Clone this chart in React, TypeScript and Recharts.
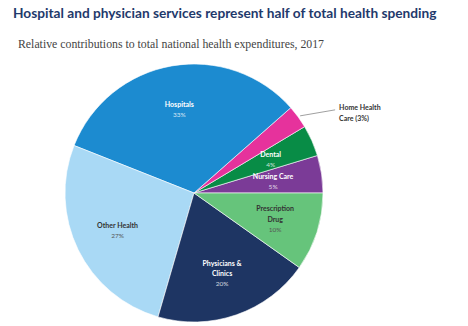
import React from 'react';
import { PieChart, Pie, Cell } from 'recharts';

const categories = ['Nursing Care', 'Dental', 'Home Health Care', 'Hospitals', 'Other Health', 'Physicians & Clinics', 'Prescription Drug'];
const shares = [4.7, 3.9, 2.9, 32.5, 26.5, 19.7, 9.8];
const shareLabels = ['5%', '4%', '3%', '33%', '27%', '20%', '10%'];
const labelLines = [['Nursing Care'], ['Dental'], ['Home Health', 'Care (3%)'], ['Hospitals'], ['Other Health'], ['Physicians &', 'Clinics'], ['Prescription', 'Drug']];
const colors = ['#7b3b97', '#088c46', '#e6329c', '#1c8bd0', '#a9d9f5', '#1e3563', '#66c47b'];
const darkText = [false, false, false, false, true, false, true];

const data = categories.map((c, i) => ({ name: c, value: shares[i] }));

const RADIAN = Math.PI / 180;

const renderLabel = (props: any) => {
  const { cx, cy, midAngle, outerRadius, index } = props;
  const lines = labelLines[index];
  const font = 'Lato, "Open Sans", sans-serif';
  if (index === 2) {
    const sx = cx + outerRadius * Math.cos(-midAngle * RADIAN);
    const sy = cy + outerRadius * Math.sin(-midAngle * RADIAN);
    const ex = sx + 37;
    const ey = sy - 7;
    return (
      <g>
        <line x1={sx + 2} y1={sy - 1} x2={ex} y2={ey} stroke="#888" strokeWidth={0.8} />
        <text x={ex + 4} y={ey - 3} fontFamily={font} fontSize={7} fontWeight={700} fill="#333" dominantBaseline="central">
          {lines[0]}
        </text>
        <text x={ex + 4} y={ey + 8} fontFamily={font} fontSize={7} fontWeight={700} fill="#333" dominantBaseline="central">
          {lines[1]}
        </text>
      </g>
    );
  }
  const rf = index === 0 ? 0.62 : index === 1 ? 0.65 : 0.66;
  const r = outerRadius * rf;
  const x = cx + r * Math.cos(-midAngle * RADIAN);
  const y = cy + r * Math.sin(-midAngle * RADIAN);
  const all = [...lines, shareLabels[index]];
  const n = all.length;
  const dark = darkText[index];
  return (
    <g>
      {all.map((t, i) => (
        <text
          key={i}
          x={x}
          y={y + (i - (n - 1) / 2) * 10.5}
          textAnchor="middle"
          dominantBaseline="central"
          fontFamily={font}
          fontSize={i === n - 1 ? 6.5 : 7}
          fontWeight={i === n - 1 ? 400 : 700}
          fill={dark ? (i === n - 1 ? '#555' : '#333') : i === n - 1 ? 'rgba(255,255,255,0.8)' : '#fff'}
        >
          {t}
        </text>
      ))}
    </g>
  );
};

export default function App() {
  return (
    <div style={{ position: 'absolute', left: 0, top: 0, width: 468, height: 326, background: '#fff' }}>
      <div
        style={{
          position: 'absolute',
          left: 13,
          top: 4,
          fontFamily: 'Lato, sans-serif',
          fontWeight: 700,
          fontSize: 13.7,
          color: '#1f3a6c',
          whiteSpace: 'nowrap',
        }}
      >
        Hospital and physician services represent half of total health spending
      </div>
      <div
        style={{
          position: 'absolute',
          left: 18,
          top: 37,
          fontFamily: '"Liberation Serif", serif',
          fontSize: 11.8,
          color: '#444',
          whiteSpace: 'nowrap',
        }}
      >
        Relative contributions to total national health expenditures, 2017
      </div>
      <div style={{ position: 'absolute', left: 0, top: 0 }}>
        <PieChart width={468} height={326} margin={{ top: 0, right: 0, bottom: 0, left: 0 }}>
          <Pie
            data={data}
            dataKey="value"
            nameKey="name"
            cx={194}
            cy={193}
            outerRadius={129}
            startAngle={0}
            endAngle={360}
            stroke="#ffffff"
            strokeWidth={0.6}
            label={renderLabel}
            labelLine={false}
            isAnimationActive={false}
          >
            {data.map((d, i) => (
              <Cell key={d.name} fill={colors[i]} />
            ))}
          </Pie>
        </PieChart>
      </div>
    </div>
  );
}
